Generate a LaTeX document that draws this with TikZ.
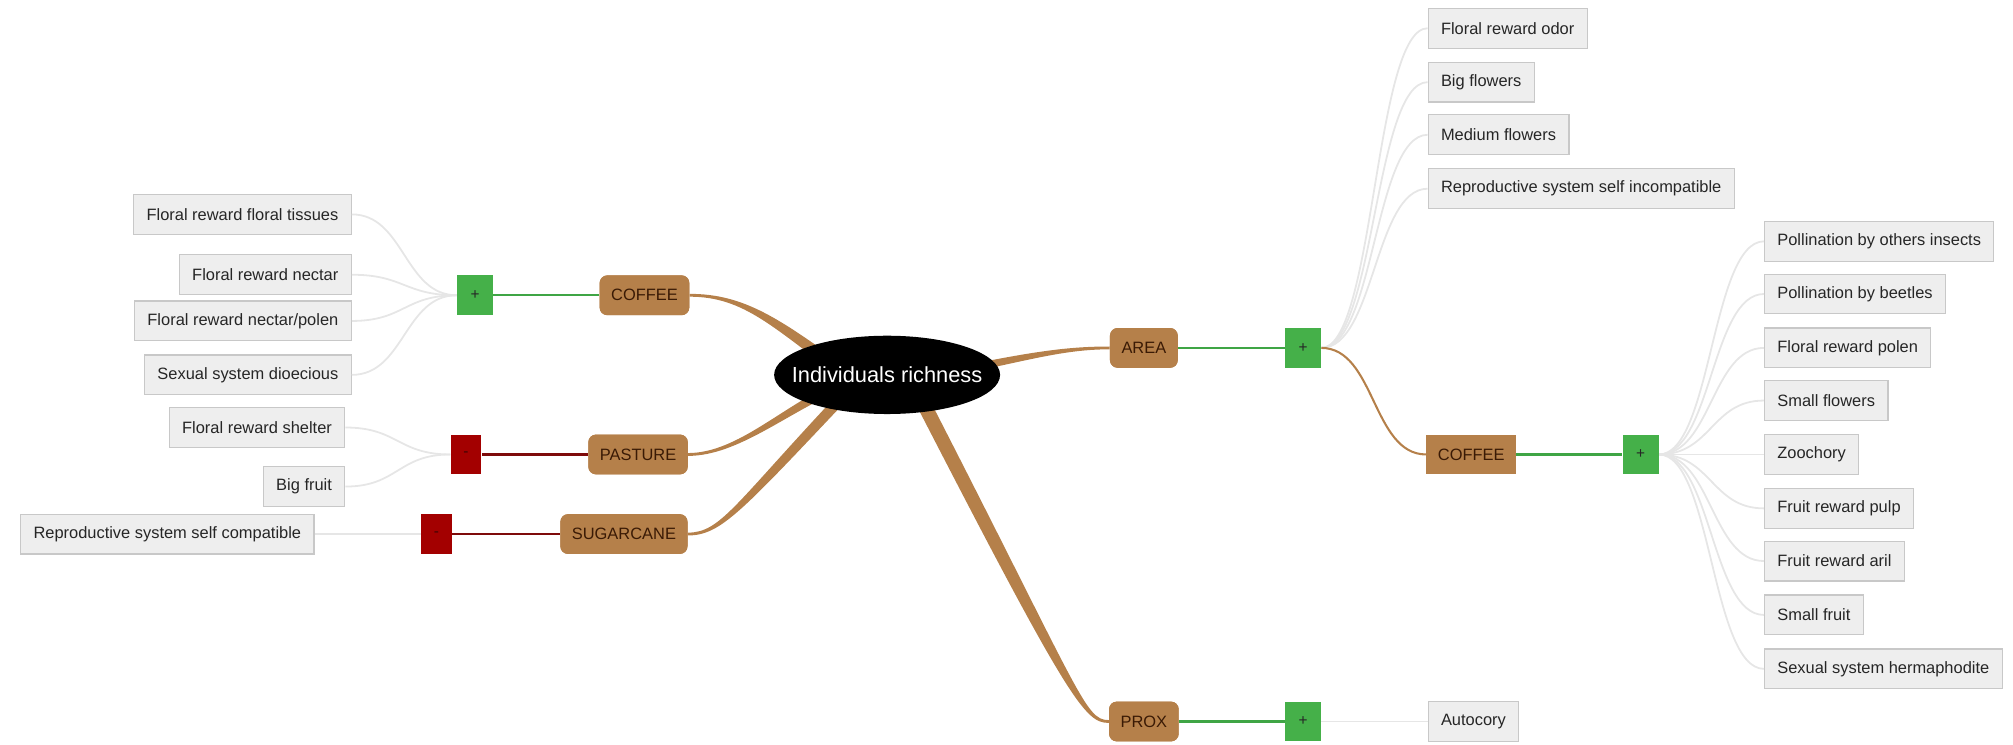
\documentclass[tikz,border=0pt]{standalone}
\usepackage{fontspec}
\setmainfont{Liberation Sans}
\usetikzlibrary{calc}
\definecolor{brownc}{HTML}{B5804A}
\definecolor{browntxt}{HTML}{3A1A05}
\definecolor{greenc}{HTML}{45B049}
\definecolor{greenl}{HTML}{3FA545}
\definecolor{redc}{HTML}{A30000}
\definecolor{redl}{HTML}{7E0A0A}
\definecolor{leaffill}{HTML}{EEEEEE}
\definecolor{leafdraw}{HTML}{C8C8C8}
\definecolor{linkgray}{HTML}{E6E6E6}
\newcommand{\taperlink}[7]{%
  \fill[brownc] ($(#1)+(0,-#7)$) .. controls ($(#2)+(0,-#7)$) and ($(#3)+(#5,#6)$) .. ($(#4)+(#5,#6)$)
    -- ($(#4)-(#5,#6)$) .. controls ($(#3)-(#5,#6)$) and ($(#2)+(0,#7)$) .. ($(#1)+(0,#7)$) -- cycle;}
\begin{document}
\begin{tikzpicture}[x=1pt,y=-1pt,
  every node/.style={font=\fontsize{12.8}{15}\selectfont},
  leaf/.style={draw=leafdraw,line width=0.9pt,fill=leaffill,text=black!85,minimum height=31pt,inner xsep=10pt,inner ysep=0pt},
  factor/.style={fill=brownc,text=browntxt,rounded corners=6pt,minimum height=31pt,inner xsep=9pt,inner ysep=0pt},
  factorsq/.style={fill=brownc,text=browntxt,minimum height=31pt,inner xsep=9pt,inner ysep=0pt},
  plusbox/.style={fill=greenc,text=black!85,minimum width=28pt,minimum height=31pt,inner sep=0pt,font=\fontsize{12}{14}\selectfont},
  minusbox/.style={fill=redc,text=redl!50!black,minimum width=24pt,minimum height=31pt,inner sep=0pt,font=\fontsize{12}{14}\selectfont},
  glink/.style={draw=linkgray,line width=1.4pt},
  greenlink/.style={draw=greenl,line width=1.8pt},
  redlink/.style={draw=redl,line width=1.8pt},
  brownlink/.style={draw=brownc,line width=1.6pt}
]
\useasboundingbox (0,0) rectangle (1568,580);

% ---------- nodes ----------
\node[leaf,anchor=east] (l1) at (274,167) {Floral reward floral tissues};
\node[leaf,anchor=east] (l2) at (274,214) {Floral reward nectar};
\node[leaf,anchor=east] (l3) at (274,250) {Floral reward nectar/polen};
\node[leaf,anchor=east] (l4) at (274,292) {Sexual system dioecious};
\node[leaf,anchor=east] (l5) at (269,333) {Floral reward shelter};
\node[leaf,anchor=east] (l6) at (269,379) {Big fruit};
\node[leaf,anchor=east] (l7) at (245,416) {Reproductive system self compatible};

\node[plusbox] (pL) at (370,230) {+};
\node[minusbox] (nP) at (363,354) {-};
\node[minusbox] (nS) at (340,416) {-};

\node[factor] (cofL) at (502,230) {COFFEE};
\node[factor] (pas) at (497,354) {PASTURE};
\node[factor] (sug) at (486,416) {SUGARCANE};

\node[factor] (area) at (891,271) {AREA};
\node[factor] (prox) at (891,562) {PROX};
\node[plusbox] (pA) at (1015,271) {+};
\node[plusbox] (pX) at (1015,562) {+};
\node[factorsq] (cofR) at (1146,354) {COFFEE};
\node[plusbox] (pC) at (1278,354) {+};

\node[leaf,anchor=west] (t1) at (1112,22) {Floral reward odor};
\node[leaf,anchor=west] (t2) at (1112,64) {Big flowers};
\node[leaf,anchor=west] (t3) at (1112,105) {Medium flowers};
\node[leaf,anchor=west] (t4) at (1112,147) {Reproductive system self incompatible};
\node[leaf,anchor=west] (aut) at (1112,562) {Autocory};

\node[leaf,anchor=west] (r1) at (1374,188) {Pollination by others insects};
\node[leaf,anchor=west] (r2) at (1374,229) {Pollination by beetles};
\node[leaf,anchor=west] (r3) at (1374,271) {Floral reward polen};
\node[leaf,anchor=west] (r4) at (1374,312) {Small flowers};
\node[leaf,anchor=west] (r5) at (1374,354) {Zoochory};
\node[leaf,anchor=west] (r6) at (1374,396) {Fruit reward pulp};
\node[leaf,anchor=west] (r7) at (1374,437) {Fruit reward aril};
\node[leaf,anchor=west] (r8) at (1374,479) {Small fruit};
\node[leaf,anchor=west] (r9) at (1374,521) {Sexual system hermaphodite};

% ---------- connectors ----------
\foreach \t in {l1,l2,l3,l4}{
  \draw[glink] (pL.west) .. controls ($(pL.west)!0.5!(\t.east |- pL.west)$) and ($(pL.west |- \t.east)!0.5!(\t.east)$) .. (\t.east);
}
\foreach \t in {l5,l6}{
  \draw[glink] (nP.west) .. controls ($(nP.west)!0.5!(\t.east |- nP.west)$) and ($(nP.west |- \t.east)!0.5!(\t.east)$) .. (\t.east);
}
\draw[glink] (nS.west) -- (l7.east);

\foreach \t in {t1,t2,t3,t4}{
  \draw[glink] (pA.east) .. controls ($(pA.east)!0.5!(\t.west |- pA.east)$) and ($(pA.east |- \t.west)!0.5!(\t.west)$) .. (\t.west);
}
\foreach \t in {r1,r2,r3,r4,r5,r6,r7,r8,r9}{
  \draw[glink] (pC.east) .. controls ($(pC.east)!0.5!(\t.west |- pC.east)$) and ($(pC.east |- \t.west)!0.5!(\t.west)$) .. (\t.west);
}
\draw[glink] (pX.east) -- (aut.west);

\draw[greenlink] (cofL.west) -- (pL.east);
\draw[redlink] (pas.west) -- (nP.east);
\draw[redlink] (sug.west) -- (nS.east);
\draw[greenlink] (area.east) -- (pA.west);
\draw[greenlink] (cofR.east) -- (pC.west);
\draw[greenlink] (prox.east) -- (pX.west);
\draw[brownlink] (pA.east) .. controls ($(pA.east)+(42,0)$) and ($(cofR.west)+(-42,0)$) .. (cofR.west);

\coordinate (aC) at (660,292);
\coordinate (aP) at (655,300);
\coordinate (aS) at (665,300);
\coordinate (aA) at (740,290);
\coordinate (aX) at (712,300);
\taperlink{cofL.east}{580,230}{605,252}{aC}{2.7}{-3.6}{1.1}
\taperlink{pas.east}{575,354}{612,318}{aP}{-1.4}{-3.2}{1.1}
\taperlink{sug.east}{562,416}{575,395}{aS}{-2.9}{-2.9}{1.1}
\taperlink{area.west}{828,271}{800,278}{aA}{-0.6}{-3.0}{1.1}
\taperlink{prox.west}{845,562}{838,545}{aX}{4.9}{-2.6}{1.1}

% nodes again, above the connectors
\node[factor] at (cofL) {COFFEE};
\node[factor] at (pas) {PASTURE};
\node[factor] at (sug) {SUGARCANE};
\node[factor] at (area) {AREA};
\node[factor] at (prox) {PROX};
\node[plusbox] at (pA) {+};
\node[plusbox] at (pL) {+};
\node[plusbox] at (pX) {+};
\node[plusbox] at (pC) {+};
\node[minusbox] at (nP) {-};
\node[minusbox] at (nS) {-};
\node[factorsq] at (cofR) {COFFEE};

\fill[black] (691,292) ellipse [x radius=88, y radius=30.5];
\node[text=white,inner sep=0pt,font=\fontsize{17}{20}\selectfont] (ir) at (691,292) {Individuals richness};
\end{tikzpicture}
\end{document}
